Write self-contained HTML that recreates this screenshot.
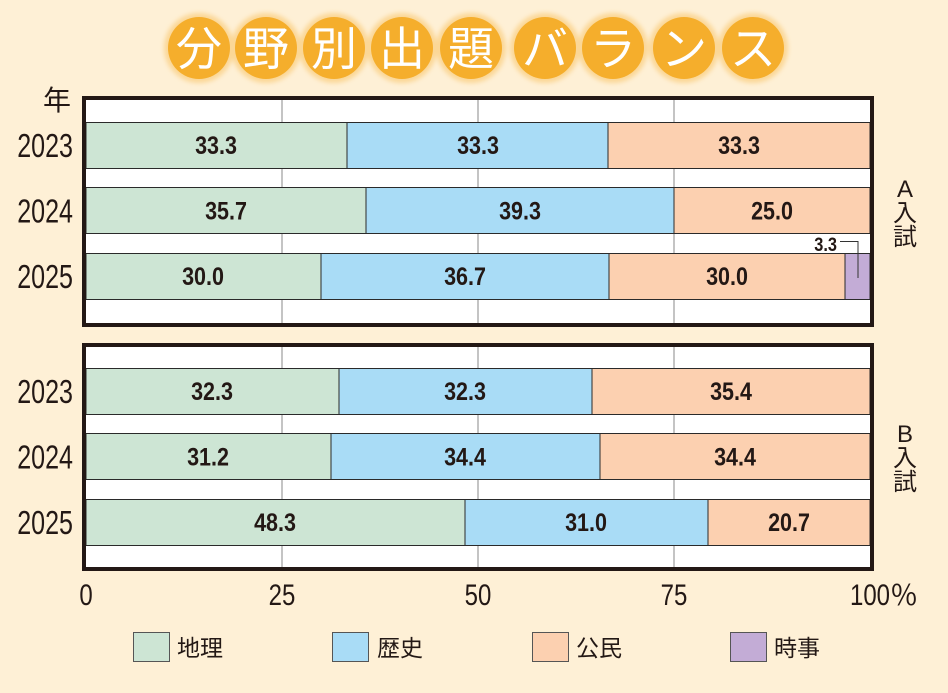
<!DOCTYPE html>
<html><head><meta charset="utf-8"><style>
html,body{margin:0;padding:0;background:#fef0d6;}
svg{display:block;}
</style></head><body>
<svg width="948" height="693" viewBox="0 0 948 693" xmlns="http://www.w3.org/2000/svg">
<defs>
<filter id="glow" x="-30%" y="-30%" width="160%" height="160%"><feGaussianBlur stdDeviation="2.5"/></filter>
</defs>
<rect x="0" y="0" width="948" height="693" fill="#fef0d6"/>

<!-- Title -->
<g>
<g fill="#fbd796" filter="url(#glow)">
<ellipse cx="199" cy="48" rx="35" ry="35"/><ellipse cx="266" cy="48" rx="35" ry="35"/><ellipse cx="334" cy="48" rx="35" ry="35"/>
<ellipse cx="402" cy="48" rx="35" ry="35"/><ellipse cx="471" cy="48" rx="35" ry="35"/><ellipse cx="545" cy="48" rx="35" ry="35"/>
<ellipse cx="613" cy="48" rx="35" ry="35"/><ellipse cx="684" cy="48" rx="35" ry="35"/><ellipse cx="753" cy="48" rx="35" ry="35"/>
</g>
<g fill="#f5ae2c">
<ellipse cx="199" cy="48" rx="31" ry="31"/><ellipse cx="266" cy="48" rx="31" ry="31"/><ellipse cx="334" cy="48" rx="31" ry="31"/>
<ellipse cx="402" cy="48" rx="31" ry="31"/><ellipse cx="471" cy="48" rx="31" ry="31"/><ellipse cx="545" cy="48" rx="31" ry="31"/>
<ellipse cx="613" cy="48" rx="31" ry="31"/><ellipse cx="684" cy="48" rx="31" ry="31"/><ellipse cx="753" cy="48" rx="31" ry="31"/>
</g>
<g fill="#ffffff" font-family="'Liberation Sans','Noto Sans CJK JP',sans-serif" font-size="46" text-anchor="middle">
<text x="199" y="65">分</text><text x="266" y="65">野</text><text x="334" y="65">別</text>
<text x="402" y="65">出</text><text x="471" y="65">題</text><text x="545" y="65">バ</text>
<text x="613" y="65">ラ</text><text x="684" y="65">ン</text><text x="753" y="65">ス</text>
</g>
</g>

<!-- Panel backgrounds -->
<rect x="86" y="100" width="784" height="223" fill="#ffffff"/>
<rect x="86" y="347" width="784" height="220" fill="#ffffff"/>
<!-- grid lines -->
<g stroke="#8a8a8a" stroke-width="1">
<line x1="282" y1="100" x2="282" y2="323"/><line x1="478" y1="100" x2="478" y2="323"/><line x1="674" y1="100" x2="674" y2="323"/>
<line x1="282" y1="347" x2="282" y2="567"/><line x1="478" y1="347" x2="478" y2="567"/><line x1="674" y1="347" x2="674" y2="567"/>
</g>

<!-- Bars A -->
<g stroke="#2a2a2a" stroke-width="1">
<rect x="86" y="122.5" width="261" height="46" fill="#cde5d4"/>
<rect x="347" y="122.5" width="261" height="46" fill="#a9dcf6"/>
<rect x="608" y="122.5" width="262" height="46" fill="#fcd0b0"/>

<rect x="86" y="187.5" width="280" height="46" fill="#cde5d4"/>
<rect x="366" y="187.5" width="308" height="46" fill="#a9dcf6"/>
<rect x="674" y="187.5" width="196" height="46" fill="#fcd0b0"/>

<rect x="86" y="253.5" width="235" height="46" fill="#cde5d4"/>
<rect x="321" y="253.5" width="288" height="46" fill="#a9dcf6"/>
<rect x="609" y="253.5" width="236" height="46" fill="#fcd0b0"/>
<rect x="845" y="253.5" width="25" height="46" fill="#c3acd6"/>

<!-- Bars B -->
<rect x="86" y="368.5" width="253" height="46" fill="#cde5d4"/>
<rect x="339" y="368.5" width="253" height="46" fill="#a9dcf6"/>
<rect x="592" y="368.5" width="278" height="46" fill="#fcd0b0"/>

<rect x="86" y="433.5" width="245" height="46" fill="#cde5d4"/>
<rect x="331" y="433.5" width="269" height="46" fill="#a9dcf6"/>
<rect x="600" y="433.5" width="270" height="46" fill="#fcd0b0"/>

<rect x="86" y="499.5" width="379" height="46" fill="#cde5d4"/>
<rect x="465" y="499.5" width="243" height="46" fill="#a9dcf6"/>
<rect x="708" y="499.5" width="162" height="46" fill="#fcd0b0"/>
</g>

<!-- Frames -->
<rect x="84" y="98" width="788" height="227" fill="none" stroke="#231815" stroke-width="4"/>
<rect x="84" y="345" width="788" height="224" fill="none" stroke="#231815" stroke-width="4"/>

<!-- Value labels -->
<g fill="#231815" font-family="'Liberation Sans',sans-serif" font-size="25" font-weight="bold" text-anchor="middle">
<text transform="translate(216,154) scale(0.86,1)">33.3</text>
<text transform="translate(478,154) scale(0.86,1)">33.3</text>
<text transform="translate(739,154) scale(0.86,1)">33.3</text>

<text transform="translate(226,219.5) scale(0.86,1)">35.7</text>
<text transform="translate(520,219.5) scale(0.86,1)">39.3</text>
<text transform="translate(772,219.5) scale(0.86,1)">25.0</text>

<text transform="translate(203,285) scale(0.86,1)">30.0</text>
<text transform="translate(465,285) scale(0.86,1)">36.7</text>
<text transform="translate(727,285) scale(0.86,1)">30.0</text>

<text transform="translate(212,400) scale(0.86,1)">32.3</text>
<text transform="translate(465,400) scale(0.86,1)">32.3</text>
<text transform="translate(731,400) scale(0.86,1)">35.4</text>

<text transform="translate(208,465.5) scale(0.86,1)">31.2</text>
<text transform="translate(465,465.5) scale(0.86,1)">34.4</text>
<text transform="translate(735,465.5) scale(0.86,1)">34.4</text>

<text transform="translate(275,531) scale(0.86,1)">48.3</text>
<text transform="translate(586,531) scale(0.86,1)">31.0</text>
<text transform="translate(789,531) scale(0.86,1)">20.7</text>
</g>

<!-- 3.3 annotation -->
<text transform="translate(837,251) scale(0.86,1)" fill="#231815" font-family="'Liberation Sans',sans-serif" font-size="19" font-weight="bold" text-anchor="end">3.3</text>
<polyline points="840,241.5 858,241.5 858,278" fill="none" stroke="#333" stroke-width="1"/>

<!-- Year labels -->
<g fill="#231815" font-family="'Liberation Sans',sans-serif" font-size="33" text-anchor="end">
<text transform="translate(73,157) scale(0.76,1)">2023</text>
<text transform="translate(73,222.5) scale(0.76,1)">2024</text>
<text transform="translate(73,288) scale(0.76,1)">2025</text>
<text transform="translate(73,403) scale(0.76,1)">2023</text>
<text transform="translate(73,468.5) scale(0.76,1)">2024</text>
<text transform="translate(73,534) scale(0.76,1)">2025</text>
</g>
<text x="57" y="110" fill="#231815" font-family="'Liberation Sans','Noto Sans CJK JP',sans-serif" font-size="28" text-anchor="middle">年</text>

<!-- Tick labels -->
<g fill="#231815" font-family="'Liberation Sans',sans-serif" font-size="30" text-anchor="middle">
<text transform="translate(86,605) scale(0.8,1)">0</text>
<text transform="translate(282,605) scale(0.8,1)">25</text>
<text transform="translate(478,605) scale(0.8,1)">50</text>
<text transform="translate(674,605) scale(0.8,1)">75</text>
<text transform="translate(870,605) scale(0.8,1)">100</text>
</g>
<text x="890" y="605" fill="#231815" font-family="'Liberation Sans','Noto Sans CJK JP',sans-serif" font-size="28">％</text>

<!-- Side labels -->
<g fill="#231815" font-family="'Liberation Sans','Noto Sans CJK JP',sans-serif" font-size="24" text-anchor="middle">
<text x="905" y="197">A</text>
<text x="905" y="221">入</text>
<text x="905" y="245">試</text>
<text x="905" y="442">B</text>
<text x="905" y="466">入</text>
<text x="905" y="490">試</text>
</g>

<!-- Legend -->
<g stroke="#555" stroke-width="1">
<rect x="133.5" y="632.5" width="36" height="29" fill="#cde5d4"/>
<rect x="332.5" y="632.5" width="36" height="29" fill="#a9dcf6"/>
<rect x="532.5" y="632.5" width="36" height="29" fill="#fcd0b0"/>
<rect x="730.5" y="632.5" width="36" height="29" fill="#c3acd6"/>
</g>
<g fill="#231815" font-family="'Liberation Sans','Noto Sans CJK JP',sans-serif" font-size="23">
<text x="177" y="656">地理</text>
<text x="377" y="656">歴史</text>
<text x="576" y="656">公民</text>
<text x="774" y="656">時事</text>
</g>
</svg>
</body></html>
